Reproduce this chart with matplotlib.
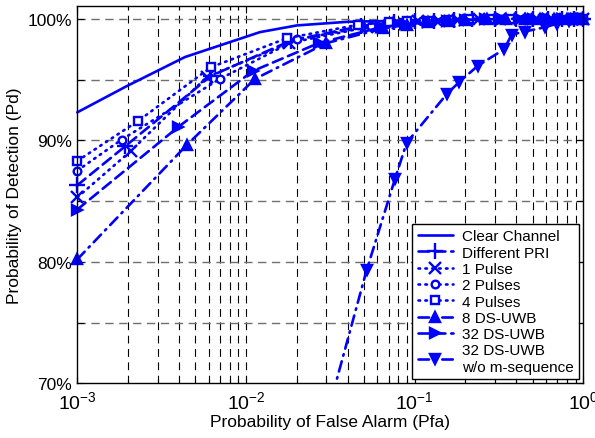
import matplotlib
matplotlib.use("Agg")
import matplotlib.pyplot as plt
from matplotlib.ticker import NullFormatter, LogLocator

plt.rcParams['font.family'] = ['Liberation Sans', 'DejaVu Sans']
plt.rcParams['mathtext.fontset'] = 'custom'
plt.rcParams['mathtext.rm'] = 'Liberation Sans'
plt.rcParams['mathtext.it'] = 'Liberation Sans:italic'
plt.rcParams['mathtext.bf'] = 'Liberation Sans:bold'

# ---- data ----
pfa_clear = [1e-3, 1.96e-3, 4.35e-3, 1.21e-2, 2e-2, 4e-2, 8.7e-2, 0.2, 1.0]
pd_clear = [92.3, 94.45, 96.85, 98.9, 99.45, 99.75, 99.85, 100.0, 100.0]

pfa_pri = [1e-3, 1.92e-3, 6.2e-3, 1.85e-2, 4.8e-2, 0.075, 0.1, 0.13, 0.17, 0.22, 0.3, 0.4, 0.5, 0.62, 0.75, 0.88, 1.0]
pd_pri = [86.3, 89.5, 95.3, 98.2, 99.4, 99.7, 99.8, 99.85, 99.9, 99.95, 100, 100, 100, 100, 100, 100, 100]

pfa_1p = [1e-3, 2.07e-3, 5.85e-3, 1.8e-2, 5.2e-2, 0.08, 0.105, 0.14, 0.18, 0.24, 0.32, 0.42, 0.53, 0.65, 0.78, 0.9, 1.0]
pd_1p = [85.3, 89.1, 95.2, 98.0, 99.3, 99.65, 99.8, 99.85, 99.9, 99.95, 100, 100, 100, 100, 100, 100, 100]

pfa_2p = [1e-3, 1.83e-3, 7.0e-3, 2.0e-2, 5.5e-2, 0.085, 0.11, 0.145, 0.19, 0.25, 0.33, 0.44, 0.55, 0.68, 0.8, 0.92, 1.0]
pd_2p = [87.5, 90.05, 95.05, 98.3, 99.4, 99.7, 99.8, 99.85, 99.9, 99.95, 100, 100, 100, 100, 100, 100, 100]

pfa_4p = [1e-3, 2.3e-3, 6.18e-3, 1.75e-2, 4.6e-2, 0.07, 0.09, 0.12, 0.16, 0.21, 0.28, 0.37, 0.47, 0.58, 0.7, 0.85, 1.0]
pd_4p = [88.3, 91.6, 96.0, 98.4, 99.5, 99.7, 99.8, 99.85, 99.9, 99.95, 100, 100, 100, 100, 100, 100, 100]

pfa_8ds = [1e-3, 4.45e-3, 1.13e-2, 3.0e-2, 6.5e-2, 0.09, 0.12, 0.16, 0.2, 0.27, 0.35, 0.45, 0.55, 0.67, 0.8, 0.9, 1.0]
pd_8ds = [80.2, 89.6, 95.05, 98.0, 99.2, 99.5, 99.7, 99.8, 99.9, 99.95, 100, 100, 100, 100, 100, 100, 100]

pfa_32ds = [1e-3, 3.97e-3, 1.1e-2, 2.7e-2, 6.3e-2, 0.088, 0.12, 0.155, 0.2, 0.26, 0.33, 0.42, 0.5, 0.62, 0.75, 0.88, 1.0]
pd_32ds = [84.3, 91.1, 95.7, 98.0, 99.3, 99.55, 99.7, 99.8, 99.9, 99.95, 100, 100, 100, 100, 100, 100, 100]

pfa_wom = [0.03, 0.0519, 0.0764, 0.0897, 0.155, 0.184, 0.238, 0.34, 0.376, 0.451, 0.592, 0.7, 0.82, 0.92, 1.0]
pd_wom = [67.2, 79.3, 86.8, 89.8, 93.8, 94.8, 96.15, 97.5, 98.7, 98.95, 99.3, 99.6, 99.85, 99.95, 100]

labels = ['Clear Channel', 'Different PRI', '1 Pulse', '2 Pulses', '4 Pulses',
          '8 DS-UWB', '32 DS-UWB', '32 DS-UWB\nw/o m-sequence']

yticks = [70, 75, 80, 85, 90, 95, 100]
ytick_labels = ['70%', '', '80%', '', '90%', '', '100%']
xticks = [1e-3, 1e-2, 1e-1, 1e0]
xtick_labels = [r'$10^{-3}$', r'$10^{-2}$', r'$10^{-1}$', r'$10^{0}$']

# ---- figure ----
W, H = 595, 439
fig = plt.figure(figsize=(W / 100, H / 100), dpi=100)
L, R, T, B = 77.3, 583.3, 7.0, 384.3
ax = fig.add_axes([L / W, 1 - B / H, (R - L) / W, (B - T) / H])

blue = (0, 0, 1)
lw = 1.9
common = dict(color=blue, lw=lw, mec=blue, mew=1.7,
              dash_capstyle='round', solid_capstyle='round')
dot = (0, (0.6, 2.0))
dashed = (0, (4, 2.2))
dashdot = (0, (4, 2.2, 0.6, 2.2))

ax.plot(pfa_clear, pd_clear, '-', label=labels[0], clip_on=False, **common)
ax.plot(pfa_pri, pd_pri, marker='+', ms=11, ls=dashed, label=labels[1], clip_on=False, **common)
ax.plot(pfa_1p, pd_1p, marker='x', ms=8, ls=dot, label=labels[2], clip_on=False, **common)
ax.plot(pfa_2p, pd_2p, marker='o', ms=5.5, mfc='white', ls=dot, label=labels[3], clip_on=False, **common)
ax.plot(pfa_4p, pd_4p, marker='s', ms=5.5, mfc='white', ls=dot, label=labels[4], clip_on=False, **common)
ax.plot(pfa_8ds, pd_8ds, marker='^', ms=7, mfc=blue, ls=dashdot, label=labels[5], clip_on=False, **common)
ax.plot(pfa_32ds, pd_32ds, marker='>', ms=7, mfc=blue, ls=dashed, label=labels[6], clip_on=False, **common)
ax.plot(pfa_wom, pd_wom, marker='v', ms=7, mfc=blue, ls=dashdot, label=labels[7], clip_on=True, **common)

ax.set_xscale('log')
ax.set_xlim(1e-3, 1)
ax.set_ylim(70, 101.05)

ax.set_xticks(xticks)
ax.set_xticklabels(xtick_labels)
ax.xaxis.set_minor_locator(LogLocator(base=10, subs=range(2, 10)))
ax.xaxis.set_minor_formatter(NullFormatter())
ax.set_yticks(yticks)
ax.set_yticklabels(ytick_labels)

ax.tick_params(axis='both', which='major', direction='in', length=5, width=0.8,
               top=True, right=True, pad=4)
ax.tick_params(axis='x', which='major', labelsize=14, pad=5)
ax.tick_params(axis='y', which='major', labelsize=12.5)
ax.tick_params(axis='x', which='minor', direction='in', length=3, width=0.8, top=True)

# grids
for x in ax.xaxis.get_minorticklocs().tolist() + xticks:
    if 1e-3 < x < 1:
        ax.axvline(x, color='black', lw=0.8, ls=(0, (7, 5)), zorder=0.5)
for y in yticks:
    if 70 < y <= 100:
        ax.axhline(y, color='#707070', lw=1.0, ls=(0, (6, 4)), zorder=0.5)

for s in ax.spines.values():
    s.set_linewidth(1.0)
    s.set_color('black')

ax.set_xlabel('Probability of False Alarm (Pfa)', fontsize=12.5, labelpad=1)
ax.set_ylabel('Probability of Detection (Pd)', fontsize=12.5, labelpad=4)

leg = ax.legend(loc='lower right', bbox_to_anchor=(0.9915, 0.0114), fontsize=11,
                frameon=True, fancybox=False, edgecolor='black', framealpha=1,
                handlelength=2.3, handletextpad=0.6, labelspacing=0.15,
                borderpad=0.35, borderaxespad=0.0)
leg.get_frame().set_linewidth(1.0)
leg.set_zorder(5)

fig.savefig('out.png', dpi=100)
